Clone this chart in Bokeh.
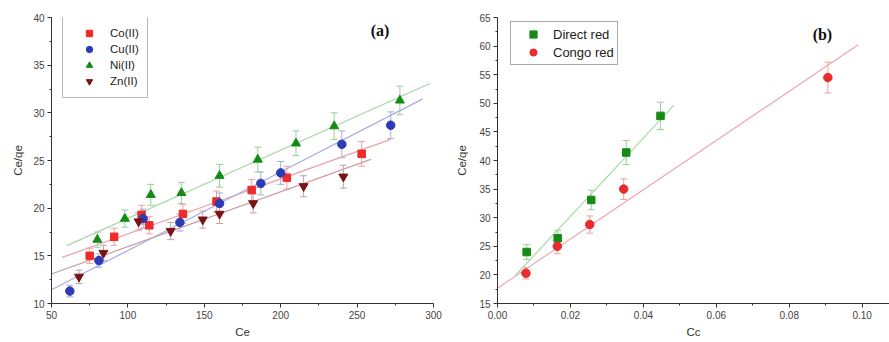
from bokeh.plotting import figure
from bokeh.layouts import row
from bokeh.models import (ColumnDataSource, Whisker, SingleIntervalTicker, Label,
                          PrintfTickFormatter, Legend, LegendItem)
from bokeh.embed import file_html
from bokeh.resources import INLINE

# ---------------- data: panel (a) ----------------
co_x = [75, 91, 109, 114, 136, 158, 181, 204, 253]
co_y = [15.0, 17.0, 19.3, 18.2, 19.4, 20.7, 21.9, 23.2, 25.7]
co_err = [0.8, 0.9, 1.0, 0.9, 1.0, 1.1, 1.1, 1.2, 1.3]

cu_x = [62, 81, 110, 134, 160, 187, 200, 240, 272]
cu_y = [11.3, 14.5, 18.9, 18.5, 20.5, 22.6, 23.7, 26.7, 28.7]
cu_err = [0.6, 0.7, 1.0, 0.9, 1.1, 1.2, 1.2, 1.4, 1.4]

ni_x = [80, 98, 115, 135, 160, 185, 210, 235, 278]
ni_y = [16.7, 18.9, 21.4, 21.6, 23.4, 25.1, 26.8, 28.6, 31.3]
ni_err = [0.8, 0.9, 1.1, 1.1, 1.2, 1.3, 1.3, 1.4, 1.5]

zn_x = [68, 84, 107, 128, 149, 160, 182, 215, 241]
zn_y = [12.8, 15.3, 18.6, 17.6, 18.8, 19.4, 20.5, 22.3, 23.3]
zn_err = [0.7, 0.8, 0.9, 0.9, 0.9, 1.0, 1.0, 1.1, 1.2]

# linear fits (slope, intercept, x-start, x-end)
fit_a_names = ["Co(II)", "Cu(II)", "Ni(II)", "Zn(II)"]
fit_a_slope = [0.0576, 0.0824, 0.0716, 0.0575]
fit_a_icpt = [11.55, 7.32, 11.77, 10.22]
fit_a_x0 = [57, 50, 60, 50]
fit_a_x1 = [272, 293, 298, 259]

# ---------------- data: panel (b) ----------------
dr_x = [0.008, 0.0165, 0.0257, 0.0353, 0.0447]
dr_y = [24.0, 26.4, 33.1, 41.4, 47.8]
dr_err = [1.3, 1.4, 1.7, 2.1, 2.4]

cr_x = [0.0078, 0.0164, 0.0253, 0.0346, 0.0906]
cr_y = [20.3, 25.0, 28.8, 35.0, 54.5]
cr_err = [1.0, 1.3, 1.5, 1.8, 2.7]

fit_b_names = ["Direct red", "Congo red"]
fit_b_slope = [685.0, 430.4]
fit_b_icpt = [16.54, 17.67]
fit_b_x0 = [0.0049, 0.0]
fit_b_x1 = [0.0484, 0.0989]

FONT = "Liberation Sans"


def style_axes(p, ylab_standoff, xtick_standoff, xlab_standoff):
    for ax in (p.xaxis[0], p.yaxis[0]):
        ax.axis_line_color = "#333333"
        ax.major_tick_line_color = "#333333"
        ax.minor_tick_line_color = "#333333"
        ax.major_tick_out = 4
        ax.major_tick_in = 0
        ax.minor_tick_out = 2
        ax.minor_tick_in = 0
        ax.major_label_text_font = FONT
        ax.major_label_text_font_size = "10px"
        ax.major_label_text_color = "#444444"
        ax.axis_label_text_font = FONT
        ax.axis_label_text_font_size = "11.5px"
        ax.axis_label_text_font_style = "normal"
        ax.axis_label_text_color = "#333333"
    p.xaxis.major_label_standoff = xtick_standoff
    p.xaxis.axis_label_standoff = xlab_standoff
    p.yaxis.major_label_standoff = 3
    p.yaxis.axis_label_standoff = ylab_standoff
    p.xgrid.visible = False
    p.ygrid.visible = False
    p.outline_line_color = None
    p.background_fill_color = "white"
    p.border_fill_color = "white"


def add_series(p, xs, ys, errs, marker, color, err_color, size):
    src = ColumnDataSource(dict(x=xs, y=ys,
                                lo=[y - e for y, e in zip(ys, errs)],
                                hi=[y + e for y, e in zip(ys, errs)]))
    w = Whisker(source=src, base="x", upper="hi", lower="lo",
                line_color=err_color, line_width=1)
    w.upper_head.line_color = err_color
    w.lower_head.line_color = err_color
    w.upper_head.size = 7
    w.lower_head.size = 7
    p.add_layout(w)
    r = p.scatter("x", "y", source=src, marker=marker, size=size,
                  fill_color=color, line_color=color)
    return r


# ================= panel (a) =================
pa = figure(width=445, height=342, x_range=(50, 300), y_range=(10, 40),
            output_backend="svg", toolbar_location=None,
            min_border_left=51, min_border_right=12,
            min_border_top=17, min_border_bottom=39)
style_axes(pa, 6, 3, 4)
pa.xaxis.ticker = SingleIntervalTicker(interval=50, num_minor_ticks=2)
pa.yaxis.ticker = SingleIntervalTicker(interval=5, num_minor_ticks=2)
pa.xaxis.axis_label = "Ce"
pa.yaxis.axis_label = "Ce/qe"

line_cols_a = ["#eba3ab", "#a9a9e8", "#a3d8a3", "#c99aa2"]
for s, b, x0, x1, c in zip(fit_a_slope, fit_a_icpt, fit_a_x0, fit_a_x1, line_cols_a):
    pa.line([x0, x1], [s * x0 + b, s * x1 + b], line_color=c, line_width=1.2)

r_co = add_series(pa, co_x, co_y, co_err, "square", "#ec2b2b", "#f0a0a0", 7.5)
r_cu = add_series(pa, cu_x, cu_y, cu_err, "circle", "#2c3cb4", "#a8acdc", 8.5)
r_ni = add_series(pa, ni_x, ni_y, ni_err, "triangle", "#148c14", "#9ccc9c", 9)
r_zn = add_series(pa, zn_x, zn_y, zn_err, "inverted_triangle", "#7a1414", "#c4a0a0", 9)

leg_a = Legend(items=[LegendItem(label=n, renderers=[r]) for n, r in
                      zip(fit_a_names, [r_co, r_cu, r_ni, r_zn])],
               location=(11, 205))
leg_a.padding = 8
leg_a.glyph_width = 36
leg_a.glyph_height = 16
leg_a.label_height = 16
leg_a.spacing = 0
leg_a.label_standoff = 3
leg_a.label_text_font = FONT
leg_a.label_text_font_size = "11.5px"
leg_a.label_text_color = "#222222"
leg_a.border_line_color = "#777777"
leg_a.border_line_width = 1
leg_a.background_fill_alpha = 1
leg_a.margin = 0
pa.add_layout(leg_a)

pa.add_layout(Label(x=265, y=38.6, text="(a)", text_align="center",
                    text_baseline="middle", text_font="Liberation Serif",
                    text_font_size="16px", text_font_style="bold",
                    text_color="#111111"))

# ================= panel (b) =================
pb = figure(width=444, height=342, x_range=(0, 0.1075), y_range=(15, 65),
            output_backend="svg", toolbar_location=None,
            min_border_left=52, min_border_right=0,
            min_border_top=16, min_border_bottom=39)
style_axes(pb, 8, 3, 4)
pb.xaxis.ticker = SingleIntervalTicker(interval=0.02, num_minor_ticks=2)
pb.yaxis.ticker = SingleIntervalTicker(interval=5, num_minor_ticks=2)
pb.xaxis.formatter = PrintfTickFormatter(format="%.2f")
pb.xaxis.axis_label = "Cc"
pb.yaxis.axis_label = "Ce/qe"

line_cols_b = ["#a8daa8", "#eca8b0"]
for s, b, x0, x1, c in zip(fit_b_slope, fit_b_icpt, fit_b_x0, fit_b_x1, line_cols_b):
    pb.line([x0, x1], [s * x0 + b, s * x1 + b], line_color=c, line_width=1.2)

r_dr = add_series(pb, dr_x, dr_y, dr_err, "square", "#168a16", "#9ccc9c", 7.5)
r_cr = add_series(pb, cr_x, cr_y, cr_err, "circle", "#ea2b2b", "#f0a0a0", 8.5)

leg_b = Legend(items=[LegendItem(label=n, renderers=[r]) for n, r in
                      zip(fit_b_names, [r_dr, r_cr])],
               location=(13, 238))
leg_b.padding = 3
leg_b.glyph_width = 38
leg_b.glyph_height = 18
leg_b.label_height = 18
leg_b.spacing = 0
leg_b.label_standoff = 1
leg_b.label_text_font = FONT
leg_b.label_text_font_size = "13px"
leg_b.label_text_color = "#222222"
leg_b.border_line_color = "#555555"
leg_b.border_line_width = 1
leg_b.margin = 0
pb.add_layout(leg_b)

pb.add_layout(Label(x=0.0891, y=62.0, text="(b)", text_align="center",
                    text_baseline="middle", text_font="Liberation Serif",
                    text_font_size="16px", text_font_style="bold",
                    text_color="#111111"))

layout = row(pa, pb)
open("out.html", "w").write(file_html(layout, INLINE))
